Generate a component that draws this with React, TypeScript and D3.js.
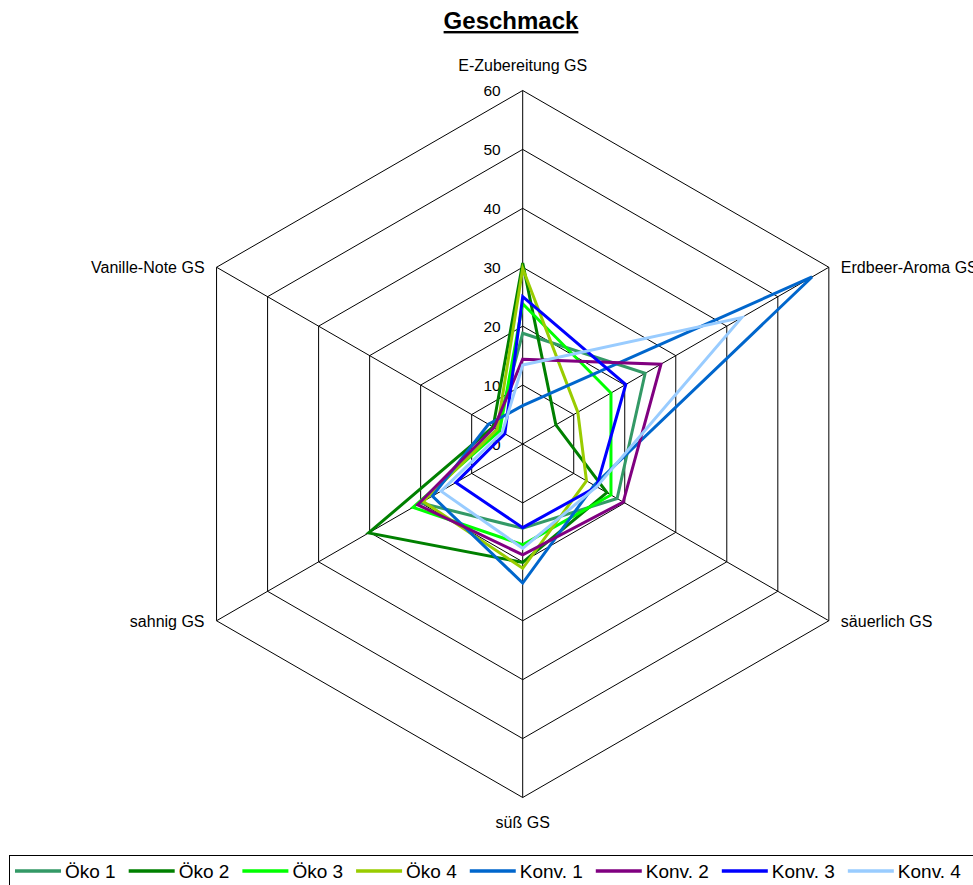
import React from "react";
import * as d3 from "d3";

const axes = ["E-Zubereitung GS", "Erdbeer-Aroma GS", "säuerlich GS", "süß GS", "sahnig GS", "Vanille-Note GS"];
const seriesNames = ["Öko 1", "Öko 2", "Öko 3", "Öko 4", "Konv. 1", "Konv. 2", "Konv. 3", "Konv. 4"];
const seriesColors = ["#339966", "#008000", "#00FF00", "#99CC00", "#0066CC", "#800080", "#0000FF", "#99CCFF"];
const oeko1 = [18.8, 24, 18.5, 14.3, 20, 5];
const oeko2 = [30.7, 6.5, 16.5, 20.1, 30.2, 5.8];
const oeko3 = [23.8, 17.3, 17.3, 17.1, 21.5, 4.5];
const oeko4 = [29.8, 10.8, 12.5, 21.1, 19.5, 5];
const konv1 = [6.5, 56.7, 14, 23.6, 17.7, 6.7];
const konv2 = [14.4, 27.1, 19.7, 18.8, 20.6, 5.6];
const konv3 = [25, 20.2, 14.5, 14.2, 13.1, 3.5];
const konv4 = [13.4, 42.9, 14.5, 17.7, 16, 4];
const seriesValues = [oeko1, oeko2, oeko3, oeko4, konv1, konv2, konv3, konv4];
const ticks = [0, 10, 20, 30, 40, 50, 60];
const title = "Geschmack";

const W = 973, H = 885;
const cx = 522.7, cy = 444;
const R = 353.5;
const FONT = "'Liberation Sans', Arial, sans-serif";

function measure(text: string, font: string): number {
  const c = document.createElement("canvas").getContext("2d");
  if (!c) return text.length * 10;
  c.font = font;
  return c.measureText(text).width;
}

export default function App() {
  const r = d3.scaleLinear().domain([0, 60]).range([0, R]);
  const ang = (i: number) => (i * 2 * Math.PI) / axes.length;
  const pt = (i: number, v: number): [number, number] => [
    cx + r(v) * Math.sin(ang(i)),
    cy - r(v) * Math.cos(ang(i)),
  ];
  const radial = d3
    .lineRadial<number>()
    .angle((_, i) => ang(i))
    .radius((d) => r(d))
    .curve(d3.curveLinearClosed);

  // legend layout
  const legendFont = `19px ${FONT}`;
  let lx = 15;
  const legendItems = seriesNames.map((name, i) => {
    const x = lx;
    const tw = measure(name, legendFont);
    lx += 46 + 4 + tw + 13;
    return { name, color: seriesColors[i], x };
  });

  const labelPos = (i: number) => {
    const [x, y] = pt(i, 60);
    if (i === 0) return { x: cx, y: 71, anchor: "middle" };
    if (i === 3) return { x: cx, y: 828, anchor: "middle" };
    if (i === 1 || i === 2) return { x: x + 12, y: y + 6, anchor: "start" };
    return { x: x - 12, y: y + 6, anchor: "end" };
  };

  return (
    <svg
      width={W}
      height={H}
      style={{ position: "absolute", left: 0, top: 0, display: "block", background: "#fff" }}
      fontFamily={FONT}
    >
      <text x={511} y={29} textAnchor="middle" fontSize={24} fontWeight="bold" textDecoration="underline">
        {title}
      </text>
      {/* grid */}
      <g stroke="#000" strokeWidth={1} fill="none">
        {ticks.slice(1).map((t) => (
          <path key={t} d={radial(axes.map(() => t)) || ""} transform={`translate(${cx},${cy})`} />
        ))}
        {axes.map((_, i) => {
          const [x, y] = pt(i, 60);
          return <line key={i} x1={cx} y1={cy} x2={x} y2={y} />;
        })}
      </g>
      {/* tick labels */}
      <g fontSize={15.5} textAnchor="end">
        {ticks.map((t) => (
          <text key={t} x={cx - 22} y={cy - r(t) + 5.5}>
            {t}
          </text>
        ))}
      </g>
      {/* axis labels */}
      <g fontSize={16}>
        {axes.map((a, i) => {
          const p = labelPos(i);
          return (
            <text key={a} x={p.x} y={p.y} textAnchor={p.anchor as any}>
              {a}
            </text>
          );
        })}
      </g>
      {/* series */}
      <g fill="none" strokeWidth={3} strokeLinejoin="miter">
        {seriesValues.map((vals, s) => (
          <path
            key={seriesNames[s]}
            d={radial(vals) || ""}
            transform={`translate(${cx},${cy})`}
            stroke={seriesColors[s]}
          />
        ))}
      </g>
      {/* legend */}
      <rect x={9.5} y={855.5} width={1000} height={60} fill="#fff" stroke="#000" strokeWidth={1} />
      <g fontSize={19}>
        {legendItems.map((it) => (
          <g key={it.name}>
            <line x1={it.x} x2={it.x + 46} y1={871} y2={871} stroke={it.color} strokeWidth={3.5} />
            <text x={it.x + 50} y={878}>
              {it.name}
            </text>
          </g>
        ))}
      </g>
    </svg>
  );
}
